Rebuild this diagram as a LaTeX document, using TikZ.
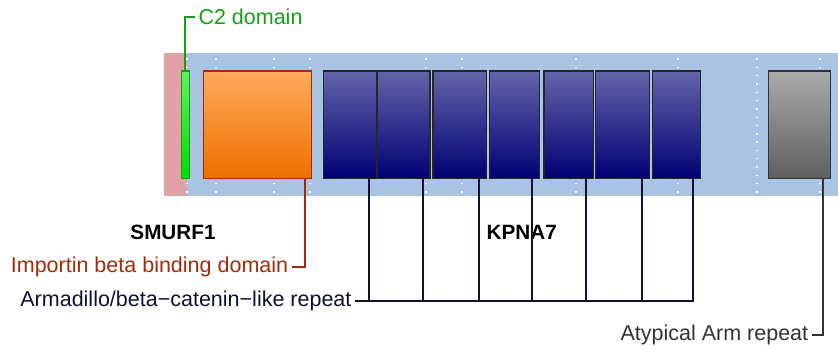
\documentclass[tikz,border=0pt]{standalone}
\usepackage{fontspec}
\setmainfont{Liberation Sans}
\usetikzlibrary{positioning}
\definecolor{trackblue}{HTML}{A8C4E2}
\definecolor{trackpink}{HTML}{E0A2A4}
\definecolor{ibbred}{HTML}{A52A0A}
\definecolor{ctwogreen}{HTML}{14A014}
\definecolor{armnavy}{HTML}{101030}
\definecolor{atypgray}{HTML}{333333}
\definecolor{armtop}{HTML}{6464AA}
\definecolor{armbottom}{HTML}{000074}
\definecolor{ibbtop}{HTML}{FFAB5C}
\definecolor{ibbbottom}{HTML}{EE7000}
\definecolor{ctwotop}{HTML}{60F060}
\definecolor{ctwobottom}{HTML}{00DD00}

\begin{document}
\begin{tikzpicture}[x=1pt, y=-1pt,
    font=\fontsize{21.5}{25}\selectfont,
    domainbox/.style={line width=1.3pt, minimum height=107pt, inner sep=0pt,
      anchor=north west},
    armbox/.style={domainbox, draw=black!85, top color=armtop,
      bottom color=armbottom},
    ibbbox/.style={domainbox, draw=ibbred, top color=ibbtop,
      bottom color=ibbbottom},
    ctwobox/.style={domainbox, draw=ctwogreen, top color=ctwotop,
      bottom color=ctwobottom},
    atypbox/.style={domainbox, draw=black!80, top color=black!33,
      bottom color=black!63},
    link/.style={line width=1.9pt},
    gridline/.style={white, line width=1.4pt, dash pattern=on 1.4pt off 6.9pt},
    protein/.style={font=\fontsize{20.7}{24}\selectfont\bfseries}
  ]
    \useasboundingbox (0,0) rectangle (838,350);

    % protein track
    \fill[trackpink] (164,53) rectangle (187,196);
    \fill[trackblue] (187,53) rectangle (838,196);
    \foreach \x in {187,216,274,310,426,462,576,678,757,820}
      \draw[gridline] (\x,58.5) -- (\x,196);

    \node[ctwobox, minimum width=7.5pt] (ctwo) at (181,70.5) {};
    \node[ibbbox, minimum width=107.5pt] (ibb) at (203,70.5) {};
    \foreach \l/\r [count=\i] in {322.5/376, 376.7/429.3, 432.3/485.7,
        488.7/538.7, 543.3/592.7, 594.7/648.7, 651.7/700}
      \node[armbox, minimum width={(\r-\l)*1pt}] (arm\i) at (\l,70.5) {};
    \node[atypbox, minimum width=62.3pt] (atyp) at (767.7,70.5) {};

    \node[protein] (smurf) at (173,232) {SMURF1};
    \node[protein] (kpna) at (521.7,232) {KPNA7};

    % labels
    \node[anchor=west, text=ctwogreen] (ctwolabel) at (195,17) {C2 domain};
    \node[anchor=east, text=ibbred] (ibblabel) at (291.7,267)
      {Importin beta binding domain};
    \node[anchor=east, text=armnavy] (armlabel) at (355,301)
      {Armadillo/beta−catenin−like repeat};
    \node[anchor=east, text=atypgray] (atyplabel) at (811.7,335)
      {Atypical Arm repeat~};

    \draw[link, ctwogreen] (ctwo.north) |- (ctwolabel.west);
    \draw[link, ibbred] ([xshift=-7pt]ibb.south east) |- (ibblabel.east);
    \foreach \i in {1,...,7}
      \draw[link, armnavy] ([xshift=-8pt]arm\i.south east) |- (armlabel.east);
    \draw[link, atypgray] ([xshift=-8pt]atyp.south east) |- (atyplabel.east);
\end{tikzpicture}
\end{document}
